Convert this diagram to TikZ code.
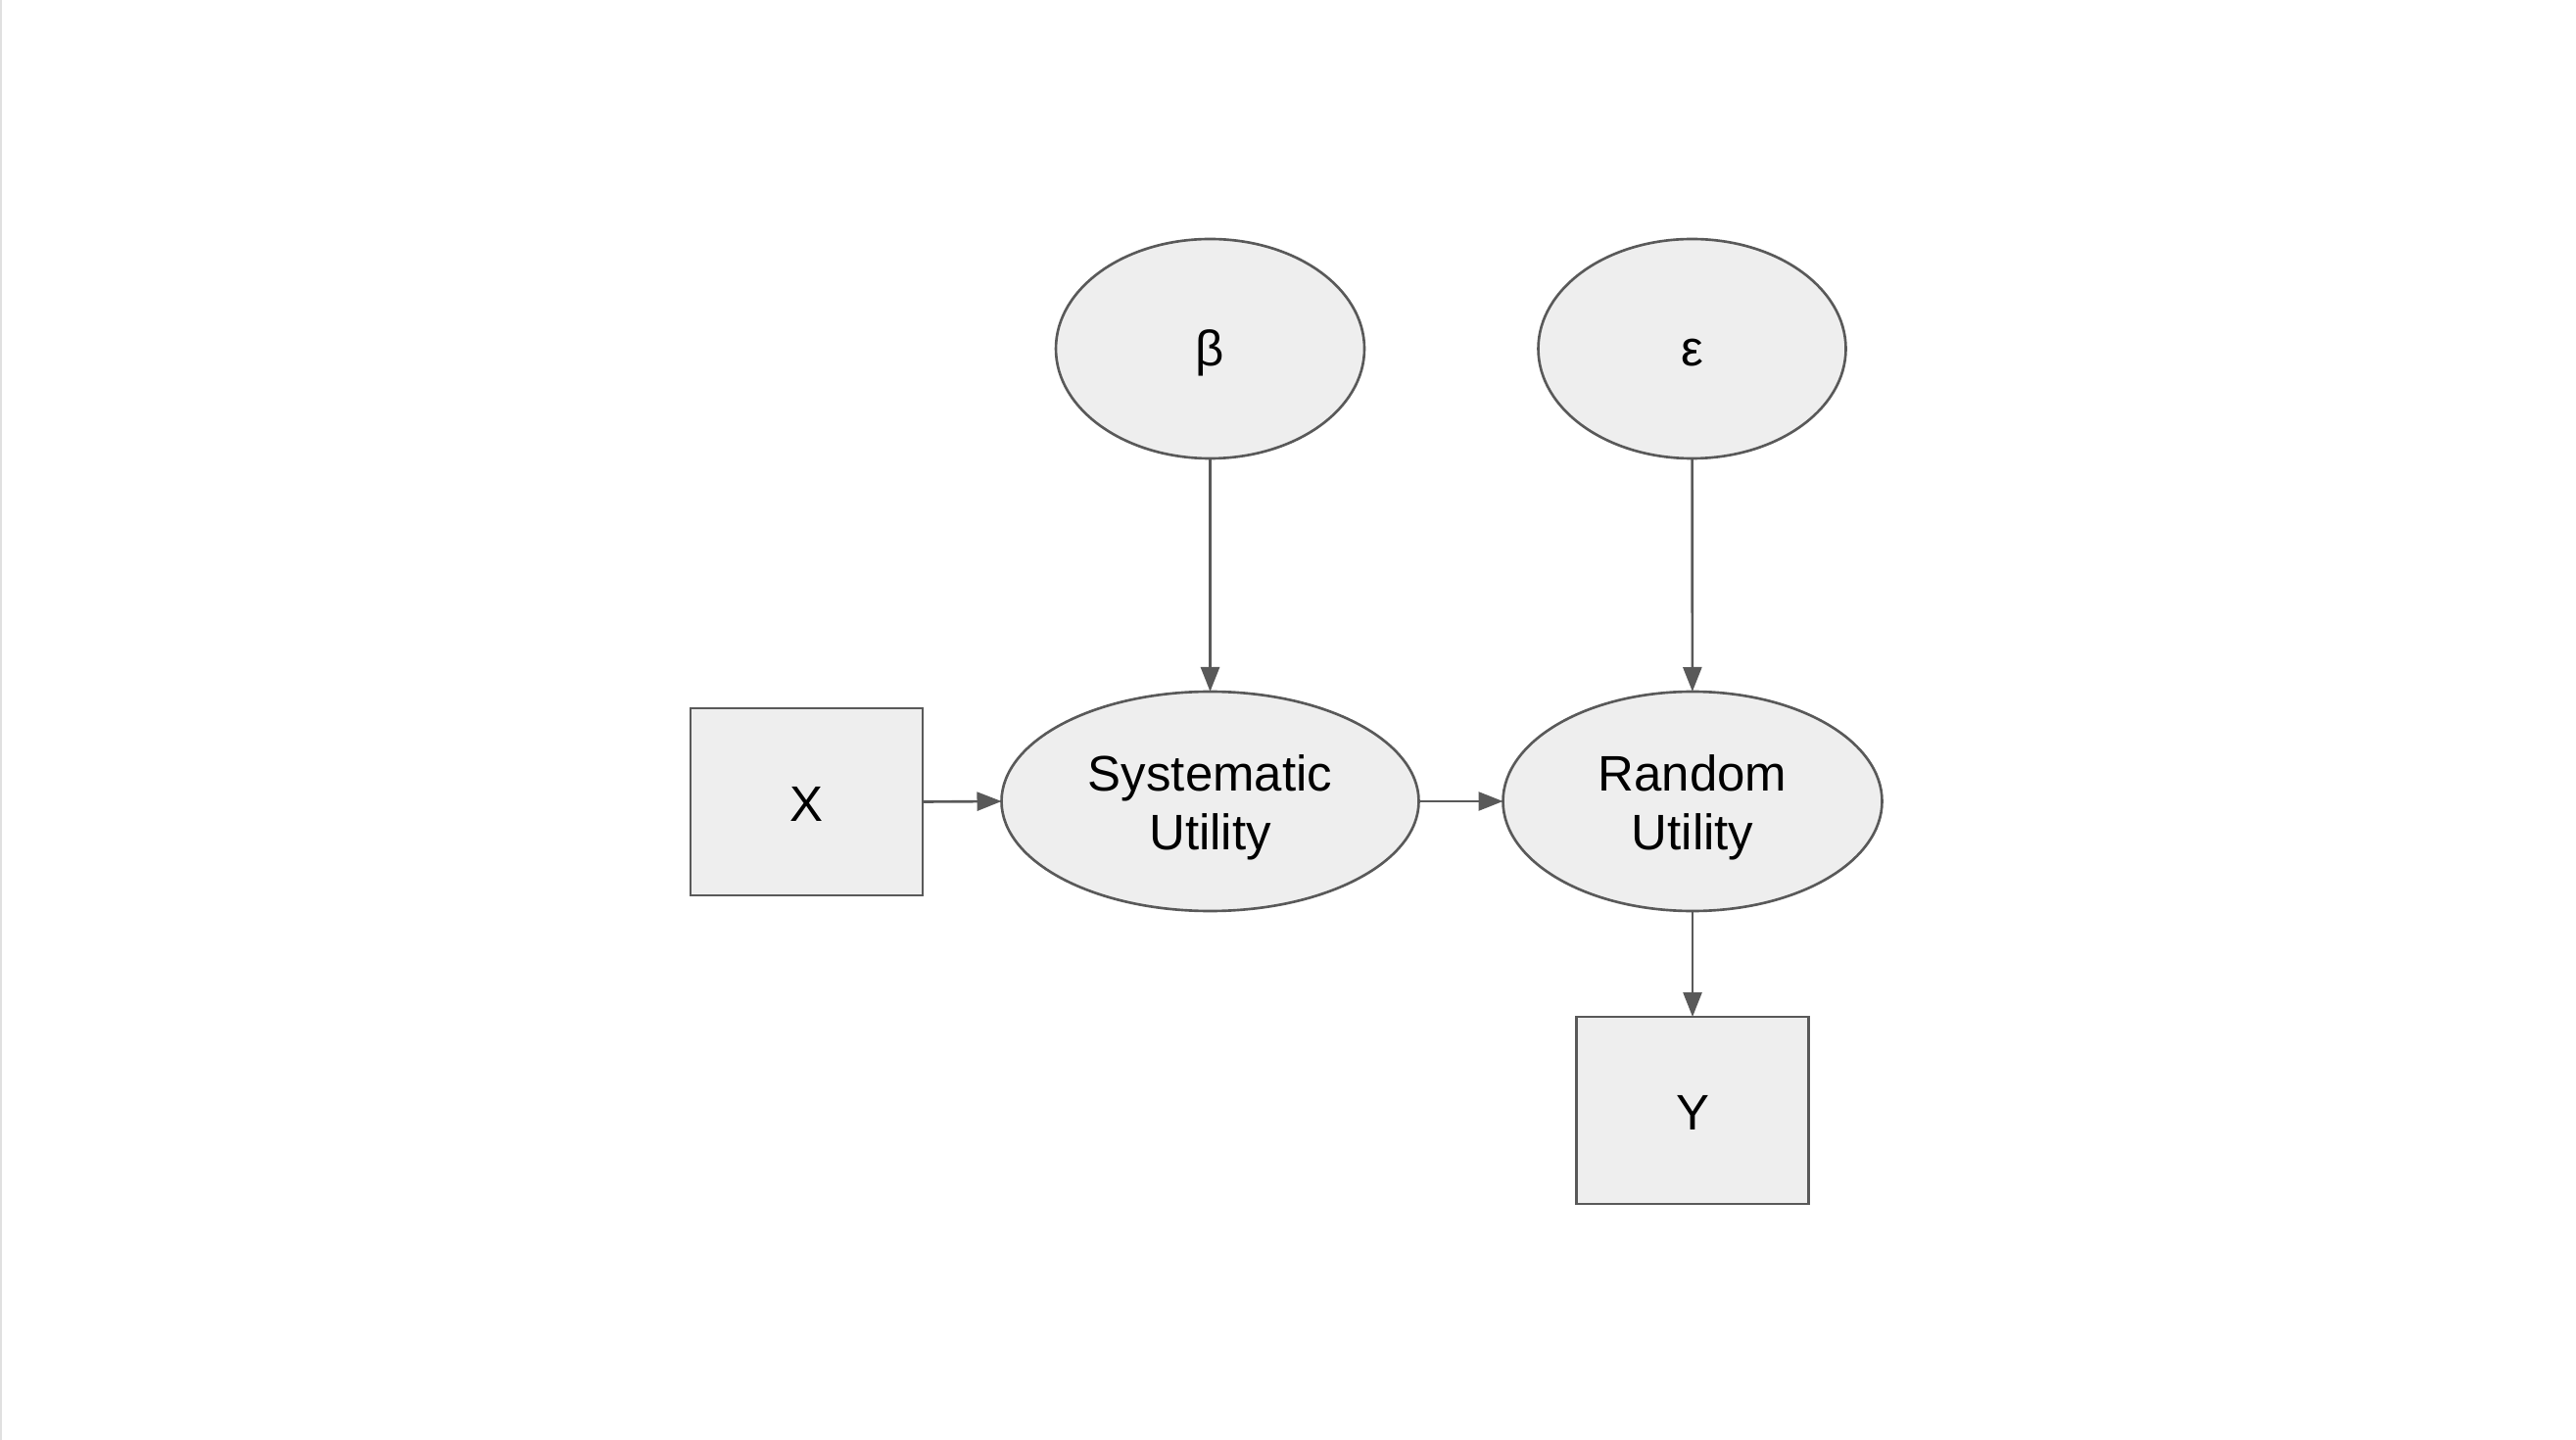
\documentclass[tikz,border=0pt]{standalone}
\usepackage{fontspec}
\setmainfont{Liberation Sans}
\usetikzlibrary{shapes.geometric,arrows.meta}
\definecolor{fillgray}{HTML}{EEEEEE}
\definecolor{linegray}{HTML}{595959}
\newcommand{\lowby}[2]{\raisebox{-#1}[\height][\depth]{#2}}
\begin{document}
\begin{tikzpicture}[
  base/.style={draw=linegray, fill=fillgray, line width=0.75pt, inner sep=0pt, outer sep=0pt,
    font=\fontsize{14.5pt}{17pt}\selectfont, align=center},
  oval/.style={base, ellipse, minimum height=2.24cm},
  boxnode/.style={base, rectangle, minimum width=2.37cm, minimum height=1.91cm},
  conn/.style={draw=linegray, line width=0.75pt, -{Triangle[length=0.25cm, width=0.19cm]}}
]
\useasboundingbox (0,0) rectangle (26.3,-14.7);
\fill[white] (0,0) rectangle (26.3,-14.7);
\draw[black!12, line width=0.6pt] (0.01,0) -- (0.01,-14.7);

\node[oval, minimum width=3.15cm] (beta) at (12.355,-3.56) {\lowby{0.045cm}{β}};
\node[oval, minimum width=3.14cm] (eps) at (17.275,-3.56) {\lowby{0.045cm}{ε}};
\node[oval, minimum width=4.26cm] (su) at (12.355,-8.18) {\lowby{0.06cm}{Systematic}\\\lowby{0.06cm}{Utility}};
\node[oval, minimum width=3.87cm] (ru) at (17.28,-8.18) {\lowby{0.06cm}{Random}\\\lowby{0.06cm}{Utility}};
\node[boxnode] (x) at (8.235,-8.185) {\lowby{0.02cm}{X}};
\node[boxnode] (y) at (17.28,-11.335) {\lowby{0.02cm}{Y}};

\draw[conn] (beta) -- (su);
\draw[conn] (eps) -- (ru);
\draw[conn] (x.east) -- (su.west);
\draw[conn] (su.east) -- (ru.west);
\draw[conn] (ru) -- (y);
\end{tikzpicture}
\end{document}
